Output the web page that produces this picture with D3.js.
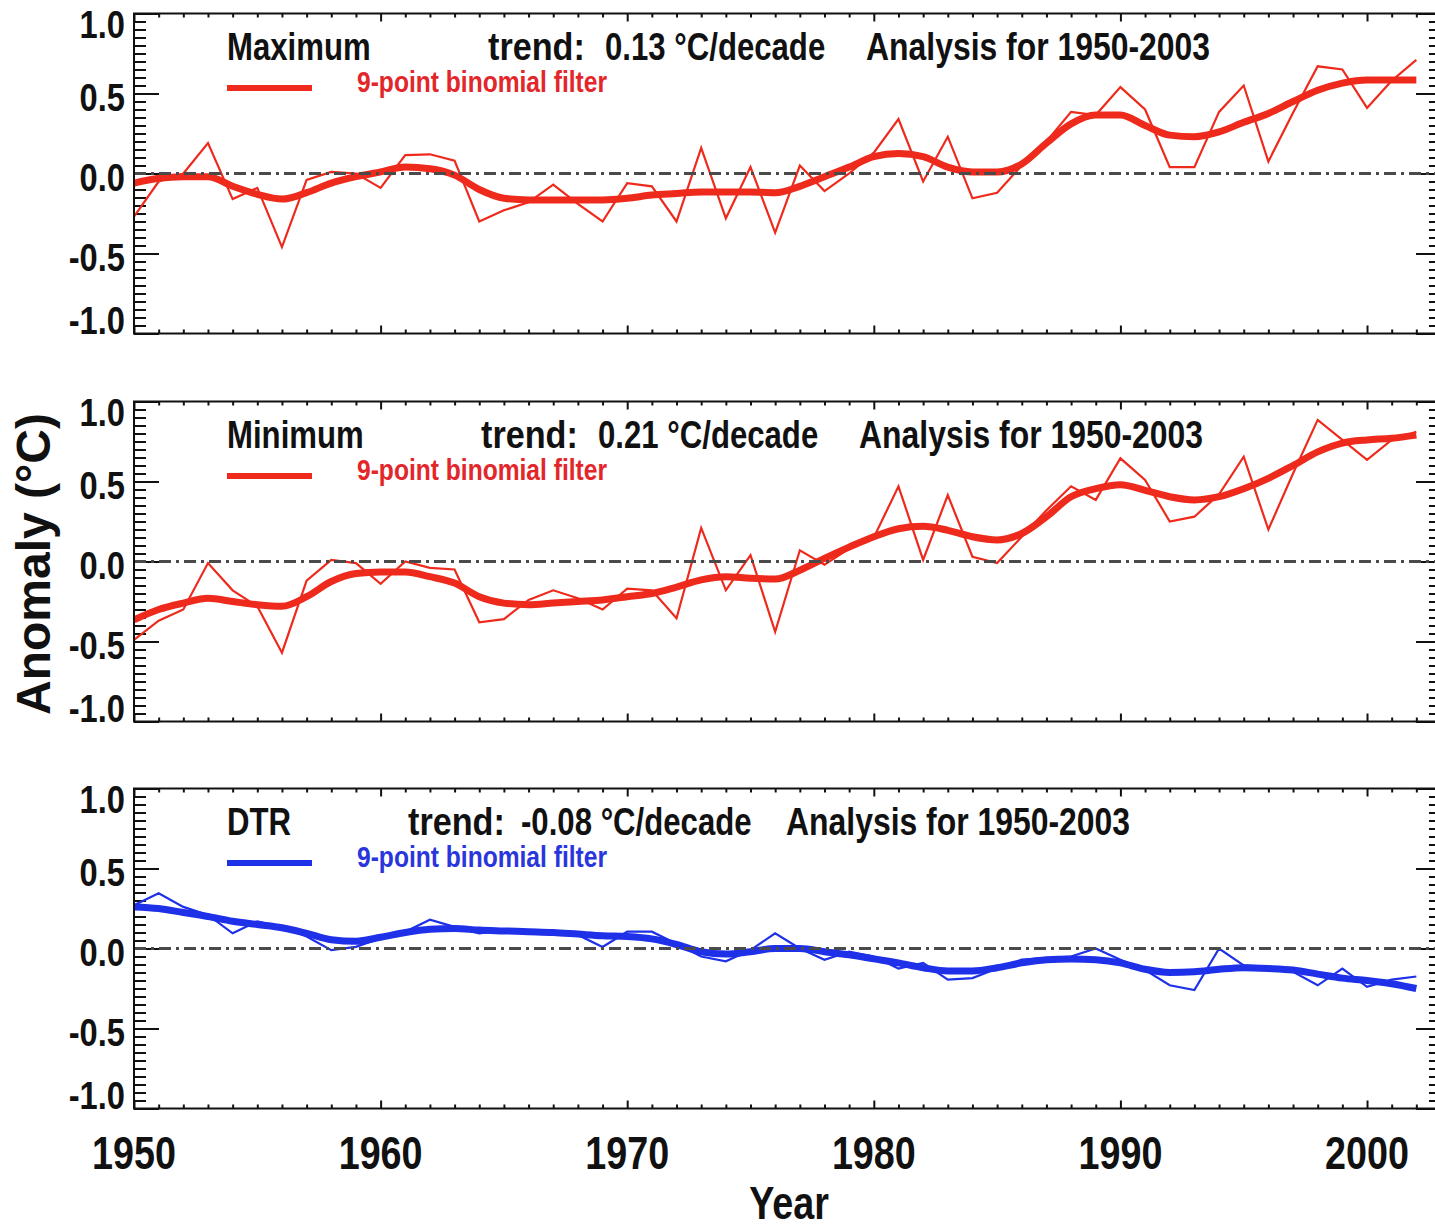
<!DOCTYPE html>
<html>
<head>
<meta charset="utf-8">
<script src="https://cdn.jsdelivr.net/npm/d3@7"></script>
<style>
  body { margin: 0; background: #fff; }
  svg { display: block; }
  text { font-family: "Liberation Sans", Arial, Helvetica, sans-serif; font-weight: bold; }
</style>
</head>
<body>
<svg id="chart" width="1435" height="1228"></svg>
<script>
// Annual temperature anomalies (°C) 1950–2002 and their 9-point binomial smoothing
const years = d3.range(1950, 2003);

const maxAnnual = [
  -0.27, -0.05, 0.00, 0.19, -0.16, -0.09, -0.46, -0.04, 0.01, 0.00,
  -0.09, 0.115, 0.12, 0.08, -0.30, -0.23, -0.18, -0.07, -0.19, -0.30,
  -0.06, -0.08, -0.30, 0.16, -0.28, 0.04, -0.37, 0.05, -0.11, 0.00,
  0.13, 0.34, -0.05, 0.23, -0.155, -0.12, 0.05, 0.20, 0.385, 0.365,
  0.54, 0.40, 0.04, 0.04, 0.385, 0.55, 0.075, 0.38, 0.67, 0.65,
  0.41, 0.58, 0.71
];
const maxSmooth = [
  -0.06, -0.03, -0.02, -0.02, -0.08, -0.13, -0.16, -0.12, -0.06, -0.02,
  0.01, 0.04, 0.03, -0.01, -0.10, -0.155, -0.165, -0.165, -0.165, -0.165,
  -0.155, -0.135, -0.125, -0.115, -0.115, -0.115, -0.12, -0.08, -0.02, 0.04,
  0.105, 0.125, 0.105, 0.04, 0.01, 0.01, 0.06, 0.19, 0.31, 0.365,
  0.365, 0.30, 0.24, 0.23, 0.26, 0.32, 0.375, 0.45, 0.52, 0.565,
  0.585, 0.585, 0.585
];

const minAnnual = [
  -0.49, -0.37, -0.30, -0.01, -0.18, -0.28, -0.57, -0.12, 0.01, -0.01,
  -0.14, 0.00, -0.04, -0.05, -0.38, -0.36, -0.24, -0.18, -0.23, -0.30,
  -0.17, -0.18, -0.355, 0.21, -0.18, 0.04, -0.44, 0.07, -0.02, 0.08,
  0.15, 0.47, 0.01, 0.415, 0.03, -0.01, 0.155, 0.32, 0.47, 0.385,
  0.645, 0.51, 0.25, 0.28, 0.42, 0.655, 0.20, 0.55, 0.885, 0.76,
  0.635, 0.76, 0.81
];
const minSmooth = [
  -0.365, -0.30, -0.26, -0.23, -0.25, -0.27, -0.28, -0.22, -0.125, -0.075,
  -0.065, -0.065, -0.095, -0.135, -0.22, -0.26, -0.27, -0.26, -0.25, -0.24,
  -0.22, -0.20, -0.16, -0.115, -0.095, -0.105, -0.11, -0.055, 0.02, 0.09,
  0.155, 0.205, 0.22, 0.195, 0.155, 0.135, 0.175, 0.28, 0.405, 0.455,
  0.48, 0.445, 0.405, 0.385, 0.405, 0.455, 0.52, 0.60, 0.685, 0.74,
  0.76, 0.77, 0.79
];

const dtrAnnual = [
  0.27, 0.345, 0.26, 0.21, 0.095, 0.17, 0.135, 0.075, -0.01, 0.01,
  0.065, 0.105, 0.18, 0.135, 0.095, 0.115, 0.105, 0.105, 0.085, 0.01,
  0.105, 0.105, 0.03, -0.05, -0.08, -0.01, 0.095, 0.00, -0.07, -0.02,
  -0.05, -0.125, -0.09, -0.195, -0.185, -0.125, -0.07, -0.06, -0.05, 0.00,
  -0.07, -0.135, -0.23, -0.26, 0.00, -0.105, -0.115, -0.145, -0.23, -0.125,
  -0.24, -0.195, -0.175
];
const dtrSmooth = [
  0.26, 0.25, 0.225, 0.20, 0.17, 0.15, 0.13, 0.095, 0.055, 0.045,
  0.07, 0.10, 0.12, 0.125, 0.115, 0.11, 0.105, 0.10, 0.09, 0.08,
  0.075, 0.06, 0.025, -0.02, -0.035, -0.02, 0.00, 0.00, -0.02, -0.04,
  -0.065, -0.09, -0.12, -0.14, -0.14, -0.12, -0.09, -0.07, -0.065, -0.07,
  -0.09, -0.13, -0.15, -0.145, -0.13, -0.12, -0.125, -0.135, -0.16, -0.185,
  -0.20, -0.22, -0.25
];

const seriesNames = ["Maximum", "Minimum", "DTR"];
const trendValues = ["0.13", "0.21", "-0.08"];
const yTickLabels = ["-1.0", "-0.5", "0.0", "0.5", "1.0"];
const xTickLabels = ["1950", "1960", "1970", "1980", "1990", "2000"];

const RED = "#ee2a1c", RED_TEXT = "#e2262a";
const BLUE = "#1e30e8", BLUE_TEXT = "#2a36dc";
const INK = "#111";
const NARROW = 0.82;   // horizontal squeeze giving a narrow bold face

const panels = [
  { name: seriesNames[0], trend: trendValues[0], annual: maxAnnual, smooth: maxSmooth, color: RED, textColor: RED_TEXT, top: 13.5, trendX: 488, valueDx: 117 },
  { name: seriesNames[1], trend: trendValues[1], annual: minAnnual, smooth: minSmooth, color: RED, textColor: RED_TEXT, top: 401.5, trendX: 481, valueDx: 117 },
  { name: seriesNames[2], trend: trendValues[2], annual: dtrAnnual, smooth: dtrSmooth, color: BLUE, textColor: BLUE_TEXT, top: 788.5, trendX: 408, valueDx: 113 }
];

const panelH = 320;
const left = 134, right = 1441;
const svg = d3.select("#chart");

const x = d3.scaleLinear().domain([1950, 2003]).range([left, right]);

const yearMajor = xTickLabels.map(Number);
const yearMinor = years.concat([2003]).filter(v => v % 10 !== 0);
const valMajor = yTickLabels.map(Number);
const valMinor = d3.range(-20, 21).map(i => i / 20).filter(v => Math.abs(v * 2 - Math.round(v * 2)) > 1e-6);

// narrow bold label placed at (px, py)
function narrowText(parent, px, py, size, str, anchor, fill, squeeze) {
  return parent.append("text")
    .attr("transform", `translate(${px},${py}) scale(${squeeze || NARROW},1)`)
    .attr("text-anchor", anchor || "start")
    .attr("font-size", size)
    .attr("fill", fill || INK)
    .text(str);
}

panels.forEach((p, i) => {
  const top = p.top, bottom = top + panelH;
  const y = d3.scaleLinear().domain([-1, 1]).range([bottom, top]);
  const g = svg.append("g");

  const clipId = "clip" + i;
  svg.append("clipPath").attr("id", clipId)
    .append("rect").attr("x", left).attr("y", top).attr("width", right - left).attr("height", panelH);

  // axes: ticks point inward on all four sides
  const axL = (ticks, len) => d3.axisLeft(y).tickValues(ticks).tickSize(-len).tickFormat("");
  const axR = (ticks, len) => d3.axisRight(y).tickValues(ticks).tickSize(-len).tickFormat("");
  const axB = (ticks, len) => d3.axisBottom(x).tickValues(ticks).tickSize(-len).tickFormat("");
  const axT = (ticks, len) => d3.axisTop(x).tickValues(ticks).tickSize(-len).tickFormat("");

  const addAxis = (axis, tx, ty) => {
    const a = g.append("g").attr("transform", `translate(${tx},${ty})`).call(axis);
    a.select(".domain").remove();
    a.selectAll("line").attr("stroke", INK).attr("stroke-width", 2);
  };
  addAxis(axL(valMinor, 12), left, 0);
  addAxis(axL(valMajor, 25), left, 0);
  addAxis(axR(valMinor, 12), right, 0);
  addAxis(axR(valMajor, 25), right, 0);
  addAxis(axB(yearMinor, 4), 0, bottom);
  addAxis(axB(yearMajor, 8), 0, bottom);
  addAxis(axT(yearMinor, 4), 0, top);
  addAxis(axT(yearMajor, 8), 0, top);

  // y tick labels, end labels kept inside the frame
  yTickLabels.forEach(d => {
    const cy = Math.max(top + 10.5, Math.min(bottom - 13.5, y(+d) + 3.5));
    narrowText(g, left - 9, cy + 13.5, 38, d, "end", INK, 0.86);
  });

  // data
  const dg = g.append("g").attr("clip-path", `url(#${clipId})`);
  const thin = d3.line().x((d, k) => x(years[k])).y(d => y(d));
  const smooth = d3.line().x((d, k) => x(years[k])).y(d => y(d)).curve(d3.curveMonotoneX);

  dg.append("path").datum(p.annual).attr("d", thin)
    .attr("fill", "none").attr("stroke", p.color).attr("stroke-width", 2.2)
    .attr("stroke-linejoin", "miter");
  dg.append("path").datum(p.smooth).attr("d", smooth)
    .attr("fill", "none").attr("stroke", p.color).attr("stroke-width", 7)
    .attr("stroke-linecap", "butt").attr("stroke-linejoin", "round");

  // zero reference line (dash-dot)
  dg.append("line")
    .attr("x1", left).attr("x2", right).attr("y1", y(0)).attr("y2", y(0))
    .attr("stroke", "#4a4a4a").attr("stroke-width", 3)
    .attr("stroke-dasharray", "12,5,3,5");

  // frame
  g.append("rect").attr("x", left).attr("y", top).attr("width", right - left).attr("height", panelH)
    .attr("fill", "none").attr("stroke", INK).attr("stroke-width", 2);

  // titles
  const base = top + 46.5;
  narrowText(g, 227, base, 38, p.name);
  narrowText(g, p.trendX, base, 38, "trend:", "start", INK, 0.9);
  narrowText(g, p.trendX + p.valueDx, base, 38, `${p.trend} °C/decade`);
  narrowText(g, p.trendX + 378, base, 38, "Analysis for 1950-2003", "start", INK, 0.84);

  // legend for the smoothed curve
  g.append("line").attr("x1", 227).attr("x2", 312).attr("y1", top + 74.5).attr("y2", top + 74.5)
    .attr("stroke", p.color).attr("stroke-width", 6);
  narrowText(g, 357, top + 78.5, 30, "9-point binomial filter", "start", p.textColor);

  // year labels on the bottom panel only
  if (i === panels.length - 1) {
    xTickLabels.forEach(d => narrowText(g, x(+d), bottom + 60, 46, d, "middle"));
  }
});

narrowText(svg, 789, 1219, 46, "Year", "middle");

svg.append("text")
  .attr("transform", "translate(50,564) rotate(-90)")
  .attr("text-anchor", "middle").attr("font-size", 48).attr("fill", INK)
  .text("Anomaly (°C)");
</script>
</body>
</html>
